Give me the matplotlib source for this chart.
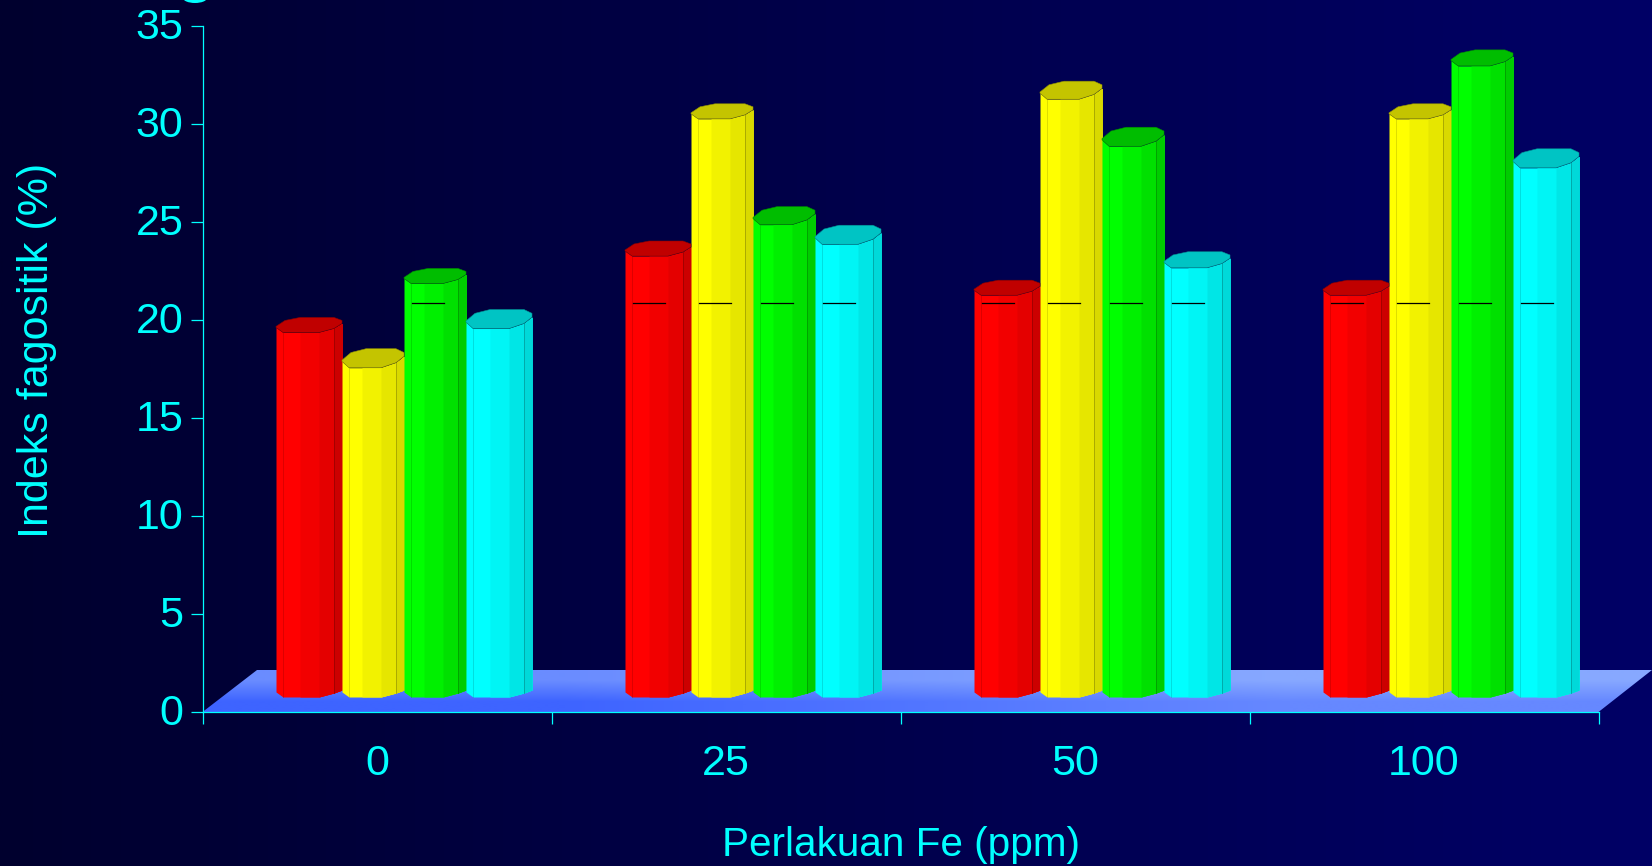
import numpy as np
import matplotlib
matplotlib.use('Agg')
import matplotlib.pyplot as plt
from matplotlib.patches import Ellipse, Polygon
from matplotlib.transforms import IdentityTransform, ScaledTranslation

plt.rcParams['font.family'] = ['Liberation Sans', 'DejaVu Sans']

# data
doses = ["0", "25", "50", "100"]
red_vals = [18.6, 22.5, 20.5, 20.5]
yellow_vals = [16.8, 29.5, 30.5, 29.5]
green_vals = [21.1, 24.1, 28.1, 32.2]
cyan_vals = [18.8, 23.1, 21.9, 27.0]
dash_level = 20.85
y_ticks = [0, 5, 10, 15, 20, 25, 30, 35]

W, H = 1652, 866
AX_L, AX_R, AX_T, AX_B = 202.5, 1598.5, 26.0, 712.0
PX_X = (AX_R - AX_L) / 4      # px per category
PX_Y = (AX_B - AX_T) / 35     # px per unit
CYAN = '#00ffff'


def gx(px):
    return px / PX_X


def gy(px):
    return px / PX_Y


# bar look: colours are facet 1, 2, 3, side, cap, edge
WIDE = [0, 24, 43, 58, 66]
NARROW = [0, 20, 39, 54, 62]
series = [
    (red_vals, 0, WIDE, [15, 15, 15, 15],
     ['#ff0000', '#f20000', '#e40000', '#cc0000', '#c00000', '#8c0000']),
    (yellow_vals, 66, NARROW, [19, 15, 18, 15],
     ['#ffff00', '#f2f200', '#e6e600', '#d9d900', '#c4c400', '#929200']),
    (green_vals, 128, NARROW, [15, 18, 19, 16],
     ['#00ff00', '#00f000', '#00e000', '#00cc00', '#00bd00', '#008c00']),
    (cyan_vals, 190, WIDE, [19, 19, 16, 19],
     ['#00ffff', '#00f5f5', '#00e6e6', '#00d9d9', '#00c4c4', '#009292']),
]
GROUP_OFFSET = 73.5   # first bar left edge from group start, px
BASE_PX = 15.0        # front foot of the bars sits above the axis line


def draw_bar(ax, group, value, start, facets, cap_h, colors):
    left_px = GROUP_OFFSET + start
    base = gy(BASE_PX)
    end = facets[-1]
    k_h = cap_h / 15.0
    top_x = [0, 7, facets[2], facets[3], end]
    top_y = [5 * k_h, 0, 0, 4 * k_h, 9 * k_h]
    bot_x = [0, 7, facets[2], facets[3], end]
    bot_y = [5, 0, 0, 4, 7]

    # paint left to right, each facet runs to the bar's end so no seams show
    for k in range(4):
        xs = np.unique(np.concatenate([np.linspace(facets[k], end, 30), top_x[1:]]))
        xs = xs[xs >= facets[k]]
        ax.fill_between(group + gx(left_px + xs), base + gy(np.interp(xs, bot_x, bot_y)),
                        base + value + gy(np.interp(xs, top_x, top_y)),
                        color=colors[k], lw=0, clip_on=False, zorder=4)

    # thin vertical edges
    for xe, alpha in [(7, 0.35), (facets[3], 0.8)]:
        ax.plot([group + gx(left_px + xe)] * 2,
                [base + gy(np.interp(xe, bot_x, bot_y)),
                 base + value + gy(np.interp(xe, top_x, top_y))],
                color=colors[5], lw=0.6, alpha=alpha, clip_on=False, zorder=5)

    # cap
    back = [(end, 12 * k_h), (facets[3], 15 * k_h), (24, 15 * k_h), (9, 12 * k_h), (0, 6 * k_h)]
    pts = list(zip(top_x, top_y)) + back
    cap = [(group + gx(left_px + px), base + value + gy(py)) for px, py in pts]
    ax.add_patch(Polygon(cap, closed=True, facecolor=colors[4], edgecolor=colors[5],
                         lw=0.4, clip_on=False, zorder=5))

    # short black dash inside the bar
    if base + value > dash_level:
        ax.plot([group + gx(left_px + 8), group + gx(left_px + 40)],
                [dash_level, dash_level], color='black', lw=0.9, clip_on=False, zorder=6)


fig = plt.figure(figsize=(W / 100, H / 100), dpi=100)

# background
bg = fig.add_axes([0, 0, 1, 1], zorder=0)
grad = np.zeros((2, 256, 3))
grad[:, :, 2] = np.linspace(46, 102, 256) / 255
bg.imshow(grad, aspect='auto', extent=[0, 1, 0, 1], interpolation='bilinear')
bg.axis('off')

ax = fig.add_axes([AX_L / W, (H - AX_B) / H, (AX_R - AX_L) / W, (AX_B - AX_T) / H], zorder=1)
ax.patch.set_alpha(0)

# floor
floor_h = gy(AX_B - 670)
floor_r = gx(W - AX_L)
floor_pts = [(0, 0), (4, 0), (floor_r, floor_h), (gx(257 - AX_L), floor_h)]
floor_rgb = np.array([[[0x6a, 0x8c, 0xff], [0x87, 0xa8, 0xff]],
                      [[0x3e, 0x64, 0xff], [0x66, 0x88, 0xff]]]) / 255
im = ax.imshow(floor_rgb, aspect='auto', extent=[0, floor_r, 0, floor_h],
               interpolation='bilinear', zorder=2)
im.set_clip_box(fig.bbox)
im.set_clip_path(Polygon(floor_pts, closed=True, transform=ax.transData))

for vals, start, facets, caps, colors in series:
    for i, v in enumerate(vals):
        draw_bar(ax, i, v, start, facets, caps[i], colors)

ax.set_xlim(0, 4)
ax.set_ylim(0, 35)
for side in ['top', 'right']:
    ax.spines[side].set_visible(False)
for side in ['left', 'bottom']:
    ax.spines[side].set_color(CYAN)
    ax.spines[side].set_linewidth(0.9)
    ax.spines[side].set_zorder(7)

ax.set_yticks(y_ticks)
ax.set_xticks(range(5))
ax.set_xticklabels([])
ax.set_xticks(np.arange(4) + 0.5, minor=True)
ax.set_xticklabels(doses, minor=True)
ax.tick_params(axis='both', which='major', color=CYAN, labelcolor=CYAN, length=8.6,
               width=0.9, labelsize=31, pad=5)
ax.tick_params(axis='x', which='minor', length=0, labelcolor=CYAN, labelsize=31, pad=23)

# y tick labels sit slightly above their ticks in the reference
shift = ScaledTranslation(0, 2 / 72, fig.dpi_scale_trans)
for lab in ax.get_yticklabels():
    lab.set_transform(lab.get_transform() + shift)

ax.set_xlabel("Perlakuan Fe (ppm)", color=CYAN, fontsize=29.2, va='center')
ax.xaxis.set_label_coords(0.5, (AX_B - 845) / (AX_B - AX_T))
ax.set_ylabel("Indeks fagositik (%)", color=CYAN, fontsize=31, va='center', ha='center')
ax.yaxis.set_label_coords((37 - AX_L) / (AX_R - AX_L), (AX_B - 350) / (AX_B - AX_T))

# sliver of the cropped heading at the top edge
fig.add_artist(Ellipse((195, H + 2), 24, 10, color=CYAN, lw=0, transform=IdentityTransform()))

fig.savefig('out.png', dpi=100)
plt.close()
